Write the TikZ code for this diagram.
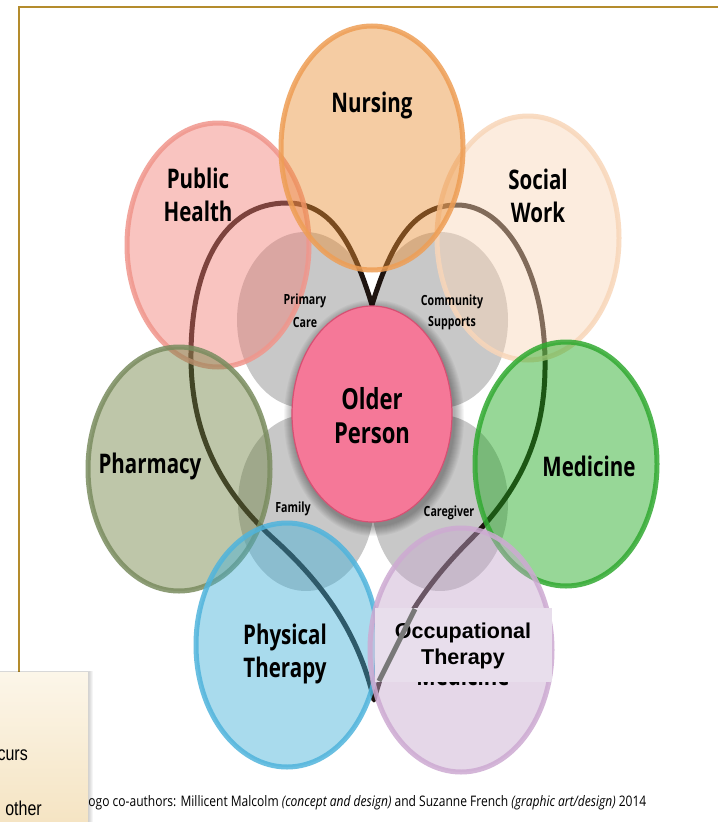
\documentclass[tikz,border=0pt]{standalone}
\usepackage{fontspec}
\setmainfont{Open Sans}
\usetikzlibrary{shapes.geometric}
\newfontfamily\labfont[FakeStretch=0.76]{Open Sans}
\newfontfamily\arialfont{Liberation Sans}
\newfontfamily\narrowfont[FakeStretch=0.8]{Liberation Sans}
\newfontfamily\capfont[FakeStretch=0.83]{Open Sans}
\definecolor{nurF}{RGB}{235,142,51}   \definecolor{nurB}{RGB}{238,158,85}
\definecolor{phF}{RGB}{242,126,117}   \definecolor{phB}{RGB}{240,150,140}
\definecolor{swF}{RGB}{250,213,182}   \definecolor{swB}{RGB}{248,214,185}
\definecolor{phaF}{RGB}{111,130,66}   \definecolor{phaB}{RGB}{122,140,95}
\definecolor{medF}{RGB}{26,168,26}    \definecolor{medB}{RGB}{50,170,50}
\definecolor{ptF}{RGB}{66,177,217}    \definecolor{ptB}{RGB}{80,180,220}
\definecolor{otF}{RGB}{199,168,206}   \definecolor{otB}{RGB}{205,170,210}
\definecolor{opF}{RGB}{245,120,152}   \definecolor{opB}{RGB}{215,80,115}
\definecolor{grayF}{RGB}{200,200,200}
\definecolor{heart}{RGB}{30,20,16}
\definecolor{frame}{RGB}{180,140,45}
\definecolor{otbox}{RGB}{232,222,236}
\definecolor{pastegray}{RGB}{120,120,120}
\definecolor{creamT}{RGB}{252,246,233}
\definecolor{creamB}{RGB}{245,228,195}
\tikzset{
  disc/.style={ellipse, inner sep=0pt, minimum width=182pt, minimum height=244pt, line width=5pt, fill opacity=0.45, draw opacity=0.85},
  graydisc/.style={ellipse, inner sep=0pt, minimum width=136pt, minimum height=176pt, fill=grayF},
  biglab/.style={font=\labfont\bfseries\fontsize{27}{33}\selectfont, inner sep=0pt, align=center},
  smalllab/.style={font=\labfont\bfseries\fontsize{14}{16}\selectfont, inner sep=0pt},
  heartline/.style={draw=heart, line width=5pt, line join=round, line cap=round}
}
\begin{document}
\begin{tikzpicture}[x=1pt,y=-1pt]
\useasboundingbox (0,0) rectangle (718,822);
\fill[white] (0,0) rectangle (718,822);
% frame
\draw[frame, line width=2pt] (19,672) coordinate (fb) -- (19,7) coordinate (fc) -- (718,7) coordinate (fr);
% gray circles
\node[graydisc] (gpc) at (305,320) {};
\node[graydisc] (gcs) at (440,320) {};
\node[graydisc] (gfa) at (306,503) {};
\node[graydisc] (gcg) at (440,503) {};
% heart curve
\coordinate (vtop) at (372,305);
\coordinate (vbot) at (374,700);
\draw[heartline] (vtop) .. controls (352,240) and (330,203) .. (287,203)
  .. controls (225,203) and (190,265) .. (191,360)
  .. controls (192,440) and (225,495) .. (275,540)
  .. controls (330,590) and (360,640) .. (vbot)
  .. controls (390,640) and (420,590) .. (470,540)
  .. controls (525,485) and (546,430) .. (545,360)
  .. controls (544,270) and (505,205) .. (457,205)
  .. controls (415,205) and (392,240) .. (vtop);
% discipline ellipses
\node[disc, fill=phF, draw=phB] (ph) at (218,245) {};
\node[disc, fill=swF, draw=swB] (sw) at (528,238) {};
\node[disc, fill=nurF, draw=nurB] (nur) at (372,148) {};
\node[disc, fill=phaF, draw=phaB] (pha) at (179,469) {};
\node[disc, fill=medF, draw=medB] (med) at (566,464) {};
\node[disc, fill=ptF, draw=ptB] (pt) at (287,645) {};
\node[disc, fill=otF, draw=otB] (ot) at (461,650) {};
% older person shadow
\foreach \i in {1,...,10}
  \fill[black, opacity=0.035] (374,418) ellipse [x radius=80+\i, y radius=108+\i];
\node[ellipse, inner sep=0pt, minimum width=160pt, minimum height=216pt, fill=opF, draw=opB, line width=1.2pt] (op) at (372,414) {};
% labels
\node[biglab] (lnur) at (372,105) {Nursing};
\node[biglab] (lph) at (198,195) {Public\\Health};
\node[biglab] (lsw) at (538,196) {Social\\Work};
\node[biglab] (lpha) at (150,466) {Pharmacy};
\node[biglab] (lmed) at (589,466) {Medicine};
\node[biglab] (lpt) at (285,654) {Physical\\Therapy};
\node[biglab, font=\labfont\bfseries\fontsize{29}{34}\selectfont] (lop) at (372,416) {Older\\Person};
\node[smalllab] (lpc1) at (305,301) {Primary};
\node[smalllab] (lpc2) at (305,322) {Care};
\node[smalllab] (lcs1) at (452,302) {Community};
\node[smalllab] (lcs2) at (452,323) {Supports};
\node[smalllab] (lfa) at (293,509) {Family};
\node[smalllab] (lcg) at (449,513) {Caregiver};
% old label under the pasted box
\node[biglab, anchor=base] (lold) at (463,685) {Medicine};
% pasted box
\fill[otbox] (375,608) rectangle (552,682);
\node[font=\arialfont\bfseries\fontsize{21.5}{26}\selectfont, align=center, inner sep=0pt] (lot) at (463,646) {Occupational\\Therapy};
\coordinate (ga) at (379,681);
\coordinate (gb) at (415,609);
\draw[pastegray, line width=5pt] (ga) -- (gb);
% caption
\node[font=\capfont\fontsize{14.5}{16}\selectfont, anchor=base west, inner sep=0pt] (cap) at (82,806)
  {Logo co-authors: Millicent Malcolm \textit{(concept and design)} and Suzanne French \textit{(graphic art/design)} 2014};
% cream box with shadow
\foreach \i in {1,...,5}
  \fill[black, opacity=0.04] (0,672-\i*0.3) rectangle (88+\i,822);
\shade[top color=creamT, bottom color=creamB] (0,672) rectangle (88,822);
\node[font=\narrowfont\fontsize{20}{22}\selectfont, anchor=base east, inner sep=0pt] (t1) at (28,760) {curs};
\node[font=\narrowfont\fontsize{20}{22}\selectfont, anchor=base east, inner sep=0pt] (t2) at (42,815) {other};
\end{tikzpicture}
\end{document}
